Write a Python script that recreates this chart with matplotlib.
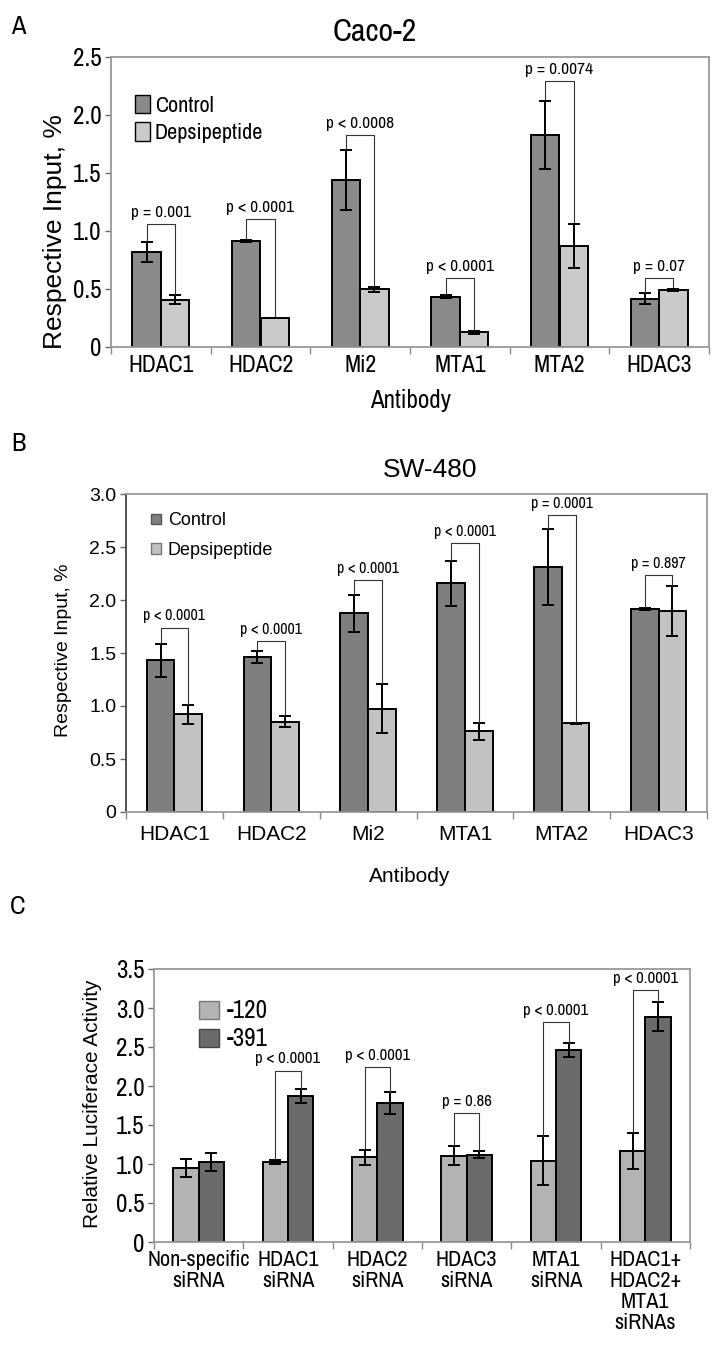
import numpy as np
import matplotlib
matplotlib.use("Agg")
import matplotlib.pyplot as plt
from matplotlib.patches import Patch

# ---- data ----
antibodies = ["HDAC1", "HDAC2", "Mi2", "MTA1", "MTA2", "HDAC3"]

# panel A: Caco-2
a_control = [0.816, 0.914, 1.437, 0.434, 1.828, 0.417]
a_control_err = [0.086, 0.010, 0.260, 0.010, 0.297, 0.050]
a_depsi = [0.408, 0.250, 0.497, 0.126, 0.874, 0.494]
a_depsi_err = [0.040, 0.004, 0.020, 0.015, 0.190, 0.010]
a_pvals = ["p = 0.001", "p < 0.0001", "p < 0.0008", "p < 0.0001", "p = 0.0074", "p = 0.07"]
a_brk_top = [1.063, 1.106, 1.83, 0.595, 2.29, 0.595]

# panel B: SW-480
b_control = [1.431, 1.462, 1.875, 2.159, 2.310, 1.913]
b_control_err = [0.155, 0.054, 0.175, 0.213, 0.358, 0.010]
b_depsi = [0.923, 0.851, 0.974, 0.760, 0.835, 1.897]
b_depsi_err = [0.090, 0.050, 0.230, 0.082, 0.005, 0.233]
b_pvals = ["p < 0.0001", "p < 0.0001", "p < 0.0001", "p < 0.0001", "p = 0.0001", "p = 0.897"]
b_brk_top = [1.74, 1.614, 2.19, 2.537, 2.80, 2.234]

# panel C: luciferase
sirnas = ["Non-specific\nsiRNA", "HDAC1\nsiRNA", "HDAC2\nsiRNA", "HDAC3\nsiRNA",
          "MTA1\nsiRNA", "HDAC1+\nHDAC2+\nMTA1\nsiRNAs"]
c_120 = [0.949, 1.026, 1.085, 1.107, 1.043, 1.171]
c_120_err = [0.117, 0.030, 0.098, 0.126, 0.312, 0.229]
c_391 = [1.026, 1.868, 1.782, 1.120, 2.462, 2.889]
c_391_err = [0.120, 0.088, 0.135, 0.045, 0.085, 0.190]
c_pvals = [None, "p < 0.0001", "p < 0.0001", "p = 0.86", "p < 0.0001", "p < 0.0001"]
c_brk_top = [None, 2.197, 2.24, 1.654, 2.82, 3.23]

NARROW = ["Archivo Narrow", "PT Sans Narrow", "DejaVu Sans"]
REG = ["Liberation Sans", "DejaVu Sans"]
W, H = 725, 1348

fig = plt.figure(figsize=(W / 100, H / 100), dpi=100)


def make_ax(left, top, right, bottom):
    return fig.add_axes([left / W, 1 - bottom / H, (right - left) / W, (bottom - top) / H])


def draw_panel(ax, cats, v1, e1, v2, e2, c1, c2, pvals, brk, ymax, ystep,
               tick_font, tick_size, cat_font, cat_size, cat_pad, linesp=1.2, p_size=12):
    x = np.arange(len(cats))
    w = 0.285
    ax.bar(x - w / 2, v1, w, color=c1, edgecolor="black", linewidth=1.4, zorder=2)
    ax.bar(x + w / 2, v2, w, color=c2, edgecolor="black", linewidth=1.4, zorder=2)
    ax.errorbar(x - w / 2, v1, yerr=e1, fmt="none", ecolor="black", elinewidth=1.4,
                capsize=4, capthick=1.4, zorder=3)
    ax.errorbar(x + w / 2, v2, yerr=e2, fmt="none", ecolor="black", elinewidth=1.4,
                capsize=4, capthick=1.4, zorder=3)
    # significance brackets
    for i, (p, top) in enumerate(zip(pvals, brk)):
        if p is None:
            continue
        xl, xr = i - w / 2, i + w / 2
        yl, yr = v1[i] + e1[i] + 0.01, v2[i] + e2[i] + 0.01
        ax.plot([xl, xl, xr, xr], [yl, top, top, yr], color="#333333", lw=0.8, zorder=4)
        ax.annotate(p, (i, top), xytext=(0, 3), textcoords="offset points",
                    ha="center", va="bottom", fontsize=p_size, family=NARROW)
    ax.set_xlim(-0.5, len(cats) - 0.5)
    ax.set_ylim(0, ymax)
    ticks = np.arange(0, ymax + 1e-9, ystep)
    ax.set_yticks(ticks)
    ax.set_yticklabels(["0"] + ["%.1f" % t for t in ticks[1:]], family=tick_font, fontsize=tick_size)
    ax.tick_params(axis="y", length=4, width=1, color="#666666", pad=3)
    ax.set_xticks(x)
    ax.set_xticklabels(cats, family=cat_font, fontsize=cat_size, linespacing=linesp)
    ax.set_xticks(np.arange(-0.5, len(cats), 1.0), minor=True)
    ax.tick_params(axis="x", which="major", length=0, pad=cat_pad)
    ax.tick_params(axis="x", which="minor", length=5, width=1, color="#888888")
    for s in ax.spines.values():
        s.set_color("#999999")
        s.set_linewidth(1.3)
    return ax


# ---- panel A ----
axA = make_ax(111, 57, 709, 347)
draw_panel(axA, antibodies, a_control, a_control_err, a_depsi, a_depsi_err,
           "#8a8a8a", "#cacaca", a_pvals, a_brk_top, 2.5, 0.5,
           NARROW, 18, NARROW, 17, 6, p_size=12.5)
axA.legend(handles=[Patch(facecolor="#8a8a8a", edgecolor="black", label="Control"),
                    Patch(facecolor="#cacaca", edgecolor="black", label="Depsipeptide")],
           loc="upper left", bbox_to_anchor=(0.025, 0.9), frameon=False,
           prop={"family": NARROW, "size": 16}, handlelength=0.7, handleheight=0.9,
           handletextpad=0.2, labelspacing=0.3, borderaxespad=0)
fig.text(375 / W, 1 - 32 / H, "Caco-2", ha="center", va="center", fontsize=23, family=NARROW)
fig.text(55 / W, 1 - 232 / H, "Respective Input, %", ha="center", va="center",
         rotation=90, fontsize=19, family=REG)
fig.text(410 / W, 1 - 400 / H, "Antibody", ha="center", va="center", fontsize=18, family=NARROW)
fig.text(18 / W, 1 - 27 / H, "A", ha="center", va="center", fontsize=19, family=NARROW)

# ---- panel B ----
axB = make_ax(126, 494, 707, 812)
draw_panel(axB, antibodies, b_control, b_control_err, b_depsi, b_depsi_err,
           "#7f7f7f", "#c2c2c2", b_pvals, b_brk_top, 3.0, 0.5,
           REG, 14, REG, 15, 9, p_size=11.5)
axB.spines["left"].set_color("#444444")
axB.legend(handles=[Patch(facecolor="#7f7f7f", edgecolor="#555555", label="Control"),
                    Patch(facecolor="#c2c2c2", edgecolor="#777777", label="Depsipeptide")],
           loc="upper left", bbox_to_anchor=(0.03, 0.965), frameon=False,
           prop={"family": REG, "size": 13}, handlelength=0.55, handleheight=0.55,
           handletextpad=0.4, labelspacing=0.7, borderaxespad=0)
fig.text(430 / W, 1 - 470 / H, "SW-480", ha="center", va="center", fontsize=19, family=REG)
fig.text(63 / W, 1 - 650 / H, "Respective Input, %", ha="center", va="center",
         rotation=90, fontsize=14, family=REG)
fig.text(410 / W, 1 - 876 / H, "Antibody", ha="center", va="center", fontsize=15, family=REG)
fig.text(18 / W, 1 - 444 / H, "B", ha="center", va="center", fontsize=19, family=NARROW)

# ---- panel C ----
axC = make_ax(154, 969, 690, 1242)
draw_panel(axC, sirnas, c_120, c_120_err, c_391, c_391_err,
           "#b3b3b3", "#6b6b6b", c_pvals, c_brk_top, 3.5, 0.5,
           NARROW, 18, NARROW, 16, 6, linesp=1.05, p_size=12)
axC.legend(handles=[Patch(facecolor="#b3b3b3", edgecolor="#777777", label="-120"),
                    Patch(facecolor="#6b6b6b", edgecolor="#444444", label="-391")],
           loc="upper left", bbox_to_anchor=(0.065, 0.925), frameon=False,
           prop={"family": NARROW, "size": 18}, handlelength=0.8, handleheight=0.75,
           handletextpad=0.3, labelspacing=0.2, borderaxespad=0)
fig.text(92 / W, 1 - 1104 / H, "Relative Luciferace Activity", ha="center", va="center",
         rotation=90, fontsize=15, family=REG)
fig.text(18 / W, 1 - 906 / H, "C", ha="center", va="center", fontsize=19, family=NARROW)

fig.savefig("out.png", dpi=100, facecolor="white")
